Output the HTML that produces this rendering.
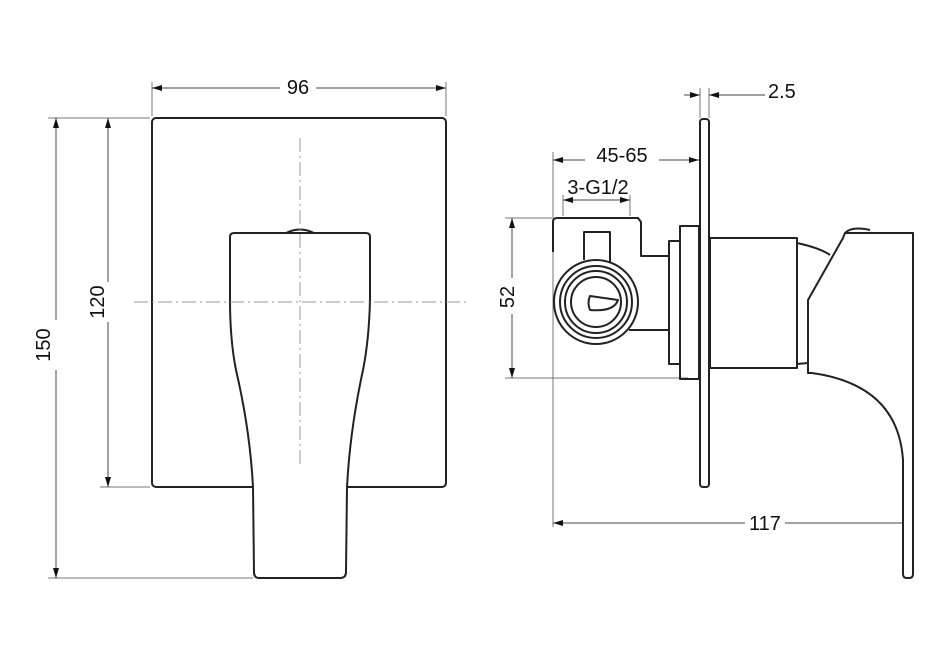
<!DOCTYPE html>
<html><head><meta charset="utf-8"><style>html,body{margin:0;padding:0;background:#fff}svg{display:block}</style></head><body>
<svg width="945" height="648" viewBox="0 0 945 648" xmlns="http://www.w3.org/2000/svg" font-family="Liberation Sans, sans-serif">
<defs>
<marker id="a" markerWidth="10" markerHeight="6" refX="10" refY="3" orient="auto-start-reverse" markerUnits="userSpaceOnUse"><path d="M0,0 L10,3 L0,6z" fill="#111"/></marker>
</defs>
<g stroke="#777" stroke-width="1" fill="none">
<line x1="152" y1="82" x2="152" y2="116"/><line x1="446" y1="82" x2="446" y2="116"/>
<line x1="48" y1="118" x2="150" y2="118"/><line x1="100" y1="487" x2="150" y2="487"/><line x1="48" y1="578" x2="253" y2="578"/>
<line x1="553" y1="152" x2="553" y2="527"/>
<line x1="563" y1="195" x2="563" y2="216"/><line x1="630" y1="195" x2="630" y2="216"/>
<line x1="505" y1="218" x2="552" y2="218"/><line x1="505" y1="378" x2="688" y2="378"/>
<line x1="700" y1="88" x2="700" y2="118"/><line x1="709" y1="88" x2="709" y2="118"/>
</g>
<g stroke="#444" stroke-width="1" fill="none">
<line x1="152" y1="88" x2="280" y2="88" marker-start="url(#a)"/><line x1="316" y1="88" x2="446" y2="88" marker-end="url(#a)"/>
<line x1="56" y1="118" x2="56" y2="320" marker-start="url(#a)"/><line x1="56" y1="370" x2="56" y2="578" marker-end="url(#a)"/>
<line x1="108" y1="118" x2="108" y2="282" marker-start="url(#a)"/><line x1="108" y1="322" x2="108" y2="487" marker-end="url(#a)"/>
<line x1="553" y1="160" x2="585" y2="160" marker-start="url(#a)"/><line x1="659" y1="160" x2="699" y2="160" marker-end="url(#a)"/>
<line x1="563" y1="200" x2="630" y2="200" marker-start="url(#a)" marker-end="url(#a)"/>
<line x1="512" y1="218" x2="512" y2="278" marker-start="url(#a)"/><line x1="512" y1="314" x2="512" y2="378" marker-end="url(#a)"/>
<line x1="684" y1="95" x2="700" y2="95" marker-end="url(#a)"/><line x1="725" y1="95" x2="709" y2="95" marker-end="url(#a)"/><line x1="725" y1="95" x2="765" y2="95"/>
<line x1="553" y1="523" x2="745" y2="523" marker-start="url(#a)"/><line x1="785" y1="523" x2="913" y2="523" marker-end="url(#a)"/>
</g>
<g font-size="20" fill="#111">
<text x="298" y="94" text-anchor="middle">96</text>
<text transform="translate(50,345) rotate(-90)" text-anchor="middle">150</text>
<text transform="translate(104,302) rotate(-90)" text-anchor="middle">120</text>
<text x="622" y="162" text-anchor="middle">45-65</text>
<text x="598" y="194" text-anchor="middle">3-G1/2</text>
<text transform="translate(514,297) rotate(-90)" text-anchor="middle">52</text>
<text x="768" y="98">2.5</text>
<text x="765" y="530" text-anchor="middle">117</text>
</g>
<g stroke="#222" stroke-width="2" fill="none" stroke-linejoin="round">
<rect x="152" y="118" width="294" height="369" rx="4" fill="#fff"/>
<path d="M286,233 Q300,226 314,233" fill="#fff"/>
<path d="M234,233 L366,233 Q370,233 370,237 L370,300 Q369,340 363,370 Q350,430 347,487 L346,572 Q346,578 340,578 L259,578 Q254,578 254,572 L253,487 Q250,430 236,370 Q230,340 230,300 L230,237 Q230,233 234,233 Z" fill="#fff"/>
<line x1="152" y1="487" x2="250" y2="487" stroke="#fff" stroke-width="0"/>
<rect x="700" y="119" width="9" height="368" rx="3"/>
<path d="M553,252 L553,222 Q553,218 557,218 L638,218 L641,222 L641,256 L669,256"/>
<path d="M629,330 L669,330"/>
<path d="M584,260 L584,232 L610,232 L610,262"/>
<circle cx="596" cy="302" r="42"/><circle cx="596" cy="302" r="36"/><circle cx="596" cy="302" r="31"/><circle cx="596" cy="302" r="25"/>
<path d="M590,296 L618,300 Q614,312 590,310 Q587,303 590,296 Z"/>
<rect x="669" y="241" width="11" height="123"/>
<rect x="680" y="226" width="19" height="153"/>
<rect x="710" y="238" width="87" height="130"/>
<path d="M797,243 Q820,248 830,255"/>
<path d="M797,364 L808,363"/>
<path d="M845,233 L913,233 L913,574 Q913,578 909,578 L907,578 Q903,578 903,574 L903,460 Q898,385 812,373 L808,373 L808,300 L843,238 Z" fill="#fff"/>
<path d="M845,233 Q852,226 870,230"/>
</g>
<g stroke="#999" stroke-width="1" stroke-dasharray="14,4,2,4" fill="none">
<line x1="134" y1="302" x2="466" y2="302"/><line x1="300" y1="138" x2="300" y2="468"/>
</g>
</svg>
</body></html>
